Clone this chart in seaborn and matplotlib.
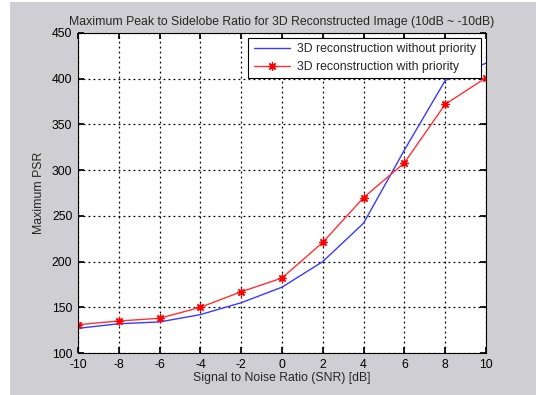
import numpy as np
import pandas as pd
import matplotlib
matplotlib.use("Agg")
import matplotlib.pyplot as plt
from matplotlib.patches import Rectangle
import seaborn as sns

snr = [-10, -8, -6, -4, -2, 0, 2, 4, 6, 8, 10]
psr_without = [127, 132, 134, 142, 155, 172, 200, 242, 322, 398, 417]
psr_with = [131, 135, 138, 150, 167, 182, 221, 270, 308, 372, 401]
label_without = "3D reconstruction without priority"
label_with = "3D reconstruction with priority"
title = "Maximum Peak to Sidelobe Ratio for 3D Reconstructed Image (10dB ~ -10dB)"
xlabel = "Signal to Noise Ratio (SNR) [dB]"
ylabel = "Maximum PSR"
xticks = [-10, -8, -6, -4, -2, 0, 2, 4, 6, 8, 10]
yticks = [100, 150, 200, 250, 300, 350, 400, 450]

sns.set_theme(style="white")
plt.rcParams['font.family'] = ['Liberation Sans', 'DejaVu Sans']
plt.rcParams['font.size'] = 8.8

bg = "#cfced2"
fig = plt.figure(figsize=(5.36, 3.95), dpi=100, facecolor=bg)
# white border strips at left and top edges of the screenshot
fig.patches.append(Rectangle((0, 0), 10 / 536, 1, transform=fig.transFigure,
                             facecolor="white", edgecolor="none", zorder=-1))
fig.patches.append(Rectangle((0, 1 - 2 / 395), 1, 2 / 395, transform=fig.transFigure,
                             facecolor="white", edgecolor="none", zorder=-1))

ax = fig.add_axes([0.1455, 0.1063, 0.7612, 0.8102])
ax.set_facecolor("white")

df1 = pd.DataFrame({"snr": snr, "psr": psr_without})
df2 = pd.DataFrame({"snr": snr, "psr": psr_with})
sns.lineplot(data=df1, x="snr", y="psr", ax=ax, color="#3a3aff", lw=1.0,
             label=label_without)
sns.lineplot(data=df2, x="snr", y="psr", ax=ax, color="#ff3030", lw=1.0,
             marker=(8, 2, 0), markersize=6, markeredgewidth=0.9,
             markeredgecolor="#ff0000", markerfacecolor="#ff0000",
             label=label_with)

ax.set_xlim(-10, 10)
ax.set_ylim(100, 450)
ax.set_xticks(xticks)
ax.set_yticks(yticks)
ax.set_xticklabels([str(t) for t in xticks])
ax.set_yticklabels([str(t) for t in yticks])
ax.grid(True, color="black", linestyle=(0, (1.5, 2.5)), linewidth=0.9)
ax.tick_params(direction="in", length=4, top=True, right=True, bottom=True,
               left=True, colors="black", labelsize=8.8)
ax.tick_params(axis="x", pad=4)
ax.tick_params(axis="y", pad=4)
for s in ax.spines.values():
    s.set_color("black")
    s.set_linewidth(0.8)

ax.set_title(title, fontsize=8.8, pad=6)
ax.set_xlabel(xlabel, fontsize=8.8, labelpad=1)
ax.set_ylabel(ylabel, fontsize=8.8, labelpad=5)

leg = ax.legend(loc="upper right", fontsize=8.8, frameon=True, fancybox=False,
                borderaxespad=0.4, handlelength=3.0, borderpad=0.45,
                labelspacing=0.45, handletextpad=0.5)
leg.get_frame().set_edgecolor("black")
leg.get_frame().set_linewidth(0.8)
leg.get_frame().set_alpha(1)

fig.savefig("out.png", dpi=100, facecolor=bg)
